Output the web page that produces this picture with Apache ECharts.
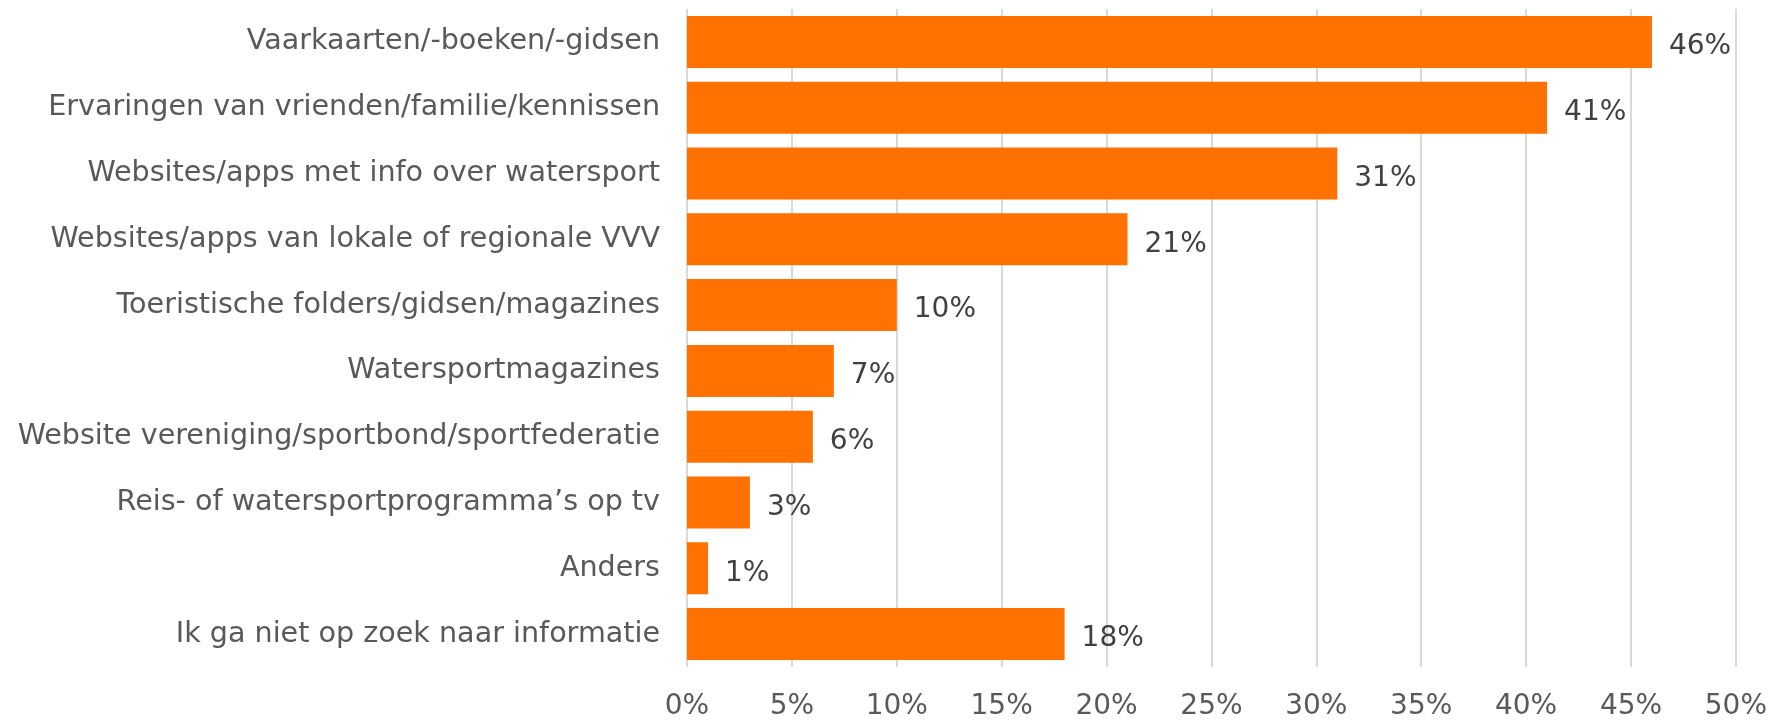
<!DOCTYPE html>
<html>
<head>
<meta charset="utf-8">
<script src="https://cdn.jsdelivr.net/npm/echarts@6/dist/echarts.min.js"></script>
<style>
  html, body { margin: 0; padding: 0; background: #ffffff; }
  #chart { width: 1770px; height: 721px; }
</style>
</head>
<body>
<div id="chart"></div>
<script>
// Information sources used by water sports participants (share of respondents)
const categories = [
  'Vaarkaarten/-boeken/-gidsen',
  'Ervaringen van vrienden/familie/kennissen',
  'Websites/apps met info over watersport',
  'Websites/apps van lokale of regionale VVV',
  'Toeristische folders/gidsen/magazines',
  'Watersportmagazines',
  'Website vereniging/sportbond/sportfederatie',
  'Reis- of watersportprogramma\u2019s op tv',
  'Anders',
  'Ik ga niet op zoek naar informatie'
];
const shares = [46, 41, 31, 21, 10, 7, 6, 3, 1, 18];
const axisTicks = [0, 5, 10, 15, 20, 25, 30, 35, 40, 45, 50];

const FONT = '"DejaVu Sans", sans-serif';
const chart = echarts.init(document.getElementById('chart'), null, { renderer: 'canvas' });

chart.setOption({
  animation: false,
  backgroundColor: '#ffffff',
  grid: { left: 687, right: 32, top: 9, bottom: 52, containLabel: false },
  xAxis: {
    type: 'value',
    min: axisTicks[0],
    max: axisTicks[axisTicks.length - 1],
    interval: axisTicks[1] - axisTicks[0],
    axisLine: { show: false },
    axisTick: { show: false },
    splitLine: { show: true, lineStyle: { color: '#d9d9d9', width: 2 } },
    axisLabel: {
      formatter: v => v + '%',
      color: '#595959',
      fontFamily: FONT,
      fontSize: 28,
      margin: 26
    }
  },
  yAxis: {
    type: 'category',
    inverse: true,
    data: categories,
    axisLine: { show: false },
    axisTick: { show: false },
    axisLabel: {
      color: '#595959',
      fontFamily: FONT,
      fontSize: 28.6,
      margin: 27,
      padding: [4, 0, 0, 0]
    }
  },
  series: [{
    type: 'bar',
    data: shares,
    barCategoryGap: '21%',
    itemStyle: { color: '#ff7100' },
    label: {
      show: true,
      position: 'right',
      distance: 17,
      offset: [0, 5],
      formatter: p => p.value + '%',
      color: '#404040',
      fontFamily: FONT,
      fontSize: 28
    }
  }]
});
</script>
</body>
</html>
